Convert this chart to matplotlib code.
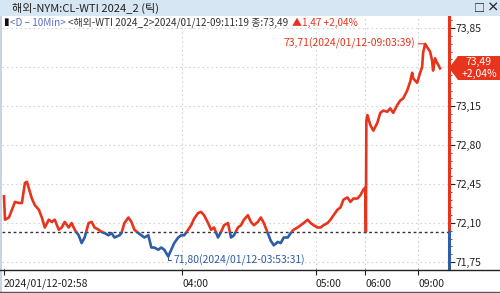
import numpy as np
import matplotlib
matplotlib.use("Agg")
import matplotlib.pyplot as plt
from matplotlib.patches import Rectangle, Polygon

plt.rcParams['font.family'] = ['Noto Sans CJK KR', 'DejaVu Sans']

# tick index (x) and price
tick_idx = [2, 3, 7, 13, 17, 20, 23, 25, 27, 30, 33, 37, 40, 43, 47, 50, 53, 57, 60, 63,
            67, 70, 73, 77, 80, 83, 87, 90, 93, 97, 100, 103, 107, 110, 113, 118, 120, 123, 127, 130,
            133, 137, 140, 143, 147, 150, 153, 157, 160, 163, 167, 170, 173, 177, 180, 183, 187, 190, 193, 197,
            200, 203, 207, 210, 213, 217, 220, 223, 227, 230, 233, 237, 240, 243, 247, 250, 253, 257, 260, 263,
            267, 270, 273, 277, 280, 283, 287, 290, 293, 297, 300, 303, 307, 310, 313, 317, 320, 323, 327, 330,
            333, 337, 340, 343, 347, 350, 353, 357, 360, 363, 365, 365.5, 366, 367, 370, 373, 377, 380, 383, 387,
            390, 393, 397, 400, 403, 407, 410, 412, 413, 417, 420, 422, 423, 425, 427, 430, 432, 433, 435, 437,
            440]
price = [72.34, 72.13, 72.15, 72.29, 72.28, 72.28, 72.46, 72.47, 72.41, 72.32, 72.26, 72.22, 72.15, 72.06, 72.13, 72.11, 72.13, 72.04, 72.06, 72.11,
         72.06, 72.10, 72.04, 71.99, 71.92, 71.97, 72.10, 72.11, 72.06, 72.04, 72.02, 72.01, 71.99, 72.01, 71.97, 71.99, 72.01, 72.10, 72.15, 72.11,
         72.04, 72.01, 71.99, 71.97, 71.99, 71.88, 71.88, 71.86, 71.88, 71.86, 71.80, 71.86, 71.92, 71.97, 71.99, 71.99, 72.04, 72.08, 72.14, 72.19,
         72.20, 72.17, 72.10, 72.04, 72.06, 71.97, 72.02, 72.08, 72.10, 71.97, 71.99, 72.06, 72.08, 72.13, 72.17, 72.11, 72.08, 72.11, 72.15, 72.10,
         72.01, 71.94, 71.90, 71.93, 71.92, 71.97, 71.97, 72.01, 72.04, 72.06, 72.08, 72.10, 72.13, 72.10, 72.08, 72.06, 72.06, 72.08, 72.10, 72.13,
         72.17, 72.22, 72.24, 72.31, 72.33, 72.29, 72.32, 72.32, 72.35, 72.40, 72.42, 72.02, 73.02, 73.07, 72.98, 72.93, 73.00, 73.09, 73.11, 73.10,
         73.13, 73.09, 73.16, 73.20, 73.22, 73.29, 73.37, 73.45, 73.40, 73.36, 73.45, 73.50, 73.63, 73.71, 73.68, 73.64, 73.56, 73.47, 73.58, 73.54,
         73.49]

prev_close = 72.02
y_ticks = [71.75, 72.10, 72.45, 72.80, 73.15, 73.50, 73.85]
y_labels = ["71,75", "72,10", "72,45", "72,80", "73,15", "", "73,85"]
x_ticks = [2, 181, 315, 365, 418]
x_labels = ["2024/01/12-02:58", "04:00", "05:00", "06:00", "09:00"]

RED = "#e8341c"
BLUE = "#2e5ca6"

W, H = 500, 293
fig = plt.figure(figsize=(W / 100, H / 100), dpi=100)
fig.patch.set_facecolor("white")

def fx(px):
    return px / W

def fy(py):
    return 1 - py / H

top, bottom, left, right = 16, 269, 2, 449
ax = fig.add_axes([fx(left), fy(bottom), fx(right - left), (bottom - top) / H])
ax.set_xlim(0, right - left + 2)
ax.set_ylim(71.687, 73.96)

# grid
for v in y_ticks:
    ax.axhline(v, color="#d4d4d4", lw=0.8, ls=(0, (1.5, 2.5)), zorder=0)
for v in x_ticks[1:]:
    ax.axvline(v, color="#d4d4d4", lw=0.8, ls=(0, (1.5, 2.5)), zorder=0)

# price line: red above prev close, blue below
above = Rectangle((0, prev_close), 1000, 10, transform=ax.transData)
below = Rectangle((0, prev_close - 10), 1000, 10, transform=ax.transData)
l1, = ax.plot(tick_idx, price, color=RED, lw=1.9, zorder=3)
l1.set_clip_path(above)
l2, = ax.plot(tick_idx, price, color=BLUE, lw=1.9, zorder=3)
l2.set_clip_path(below)

ax.axhline(prev_close, color="#333333", lw=1.0, ls=(0, (2, 2)), zorder=2)

for s in ax.spines.values():
    s.set_visible(False)

ax.yaxis.tick_right()
ax.set_yticks(y_ticks)
ax.set_yticklabels(y_labels)
ax.set_yticks(np.arange(71.75, 73.95, 0.07), minor=True)
ax.tick_params(axis="y", which="major", length=4, pad=1, labelsize=7.5, colors="#222222")
ax.tick_params(axis="y", which="minor", length=2, colors="#444444")
ax.set_xticks(x_ticks)
ax.set_xticklabels(x_labels, ha="left")
ax.tick_params(axis="x", length=4, pad=3, labelsize=7.5, colors="#222222")

# right axis line, two colours
ax.plot([1, 1], [prev_close, 73.96], color=RED, lw=2.2, transform=ax.get_yaxis_transform(),
        clip_on=False, zorder=4)
ax.plot([1, 1], [71.687, prev_close], color=BLUE, lw=2.2, transform=ax.get_yaxis_transform(),
        clip_on=False, zorder=4)

# bottom axis line across the whole width
fig.add_artist(plt.Line2D([0, 1], [fy(269.5), fy(269.5)], color="#222222", lw=1.0))
fig.add_artist(plt.Line2D([0, 1], [fy(292), fy(292)], color="#555555", lw=1.0))
fig.add_artist(Rectangle((0, 0), fx(2), 1, color="#c8d4e0", lw=0))

# max / min annotations
i_max = int(np.argmax(price))
i_min = int(np.argmin(price))
ax.annotate("73,71(2024/01/12-09:03:39)", xy=(tick_idx[i_max], price[i_max]),
            xytext=(-7, 0), textcoords="offset points", ha="right", va="center",
            fontsize=7.5, color=RED,
            arrowprops=dict(arrowstyle="-", color=RED, lw=0.8, shrinkA=0, shrinkB=0))
ax.annotate("71,80(2024/01/12-03:53:31)", xy=(tick_idx[i_min], price[i_min]),
            xytext=(4, -2.5), textcoords="offset points", ha="left", va="center",
            fontsize=7.5, color=BLUE,
            arrowprops=dict(arrowstyle="-", color=BLUE, lw=0.8, shrinkA=0, shrinkB=0,
                            connectionstyle="angle,angleA=0,angleB=90,rad=0"))

# title bar
fig.add_artist(Rectangle((0, fy(16)), 1, 16 / H, color="#d7e6f3", lw=0))
fig.text(fx(12), fy(8), "해외-NYM:CL-WTI 2024_2 (틱)", fontsize=8, color="#222222", va="center")
fig.text(fx(474), fy(8), "□", fontsize=8, color="#222222", va="center", fontweight="bold")
fig.text(fx(487), fy(8), "×", fontsize=9, color="#222222", va="center", fontweight="bold")

# info line
renderer = fig.canvas.get_renderer()
parts = [("▮", "#111111"), ("<D – 10Min> ", "#5a6ec4"),
         ("<해외-WTI 2024_2>2024/01/12-09:11:19 종:73,49 ", "#333333"),
         ("▲1,47 +2,04%", RED)]
xpos = 3
for s, c in parts:
    t = fig.text(fx(xpos), fy(22.5), s, fontsize=7.2, color=c, va="center")
    xpos = t.get_window_extent(renderer).x1 + 1

# current price box
box = Polygon([(fx(449), fy(68)), (fx(458), fy(56)), (fx(500), fy(56)),
               (fx(500), fy(80)), (fx(458), fy(80))], closed=True,
              facecolor=RED, edgecolor="none", transform=fig.transFigure)
fig.add_artist(box)
fig.text(fx(479), fy(62), "73,49", fontsize=7.5, color="white", ha="center", va="center")
fig.text(fx(479), fy(74), "+2,04%", fontsize=7.5, color="white", ha="center", va="center")

fig.savefig("out.png", dpi=100)
